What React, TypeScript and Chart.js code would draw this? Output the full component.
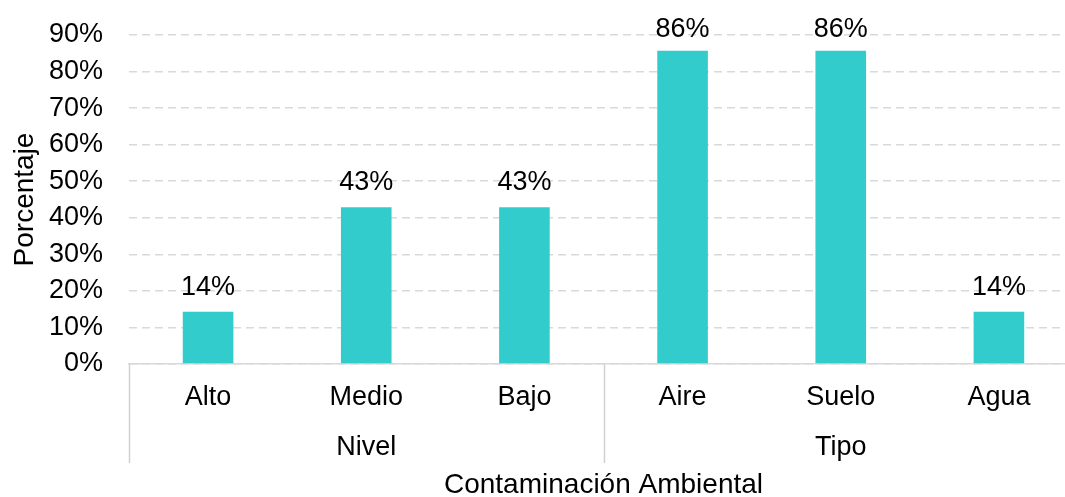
import React, { useEffect, useRef } from "react";
import { Chart, registerables } from "chart.js";

Chart.register(...registerables);

const categories = ["Alto", "Medio", "Bajo", "Aire", "Suelo", "Agua"];
const values = [14.29, 42.86, 42.86, 85.71, 85.71, 14.29];
const groupNames = ["Nivel", "Tipo"];
const groupSizes = [3, 3];
const yTicks = [0, 10, 20, 30, 40, 50, 60, 70, 80, 90];

const FONT = '"Liberation Sans", Arial, sans-serif';
const TICK_SIZE = 27;
const TITLE_SIZE = 28;

const overlay = {
  id: "overlay",
  afterDatasetsDraw(chart: any) {
    const ctx = chart.ctx;
    const xs = chart.scales.x;
    const area = chart.chartArea;
    const meta = chart.getDatasetMeta(0);
    ctx.save();
    ctx.font = `${TICK_SIZE}px ${FONT}`;
    ctx.fillStyle = "#000000";
    ctx.textAlign = "center";
    ctx.textBaseline = "alphabetic";
    meta.data.forEach((bar: any, i: number) => {
      const yb = Math.max(bar.y - 17, area.top + 2);
      ctx.fillText(Math.round(values[i]) + "%", bar.x, yb);
    });
    const half = (xs.getPixelForValue(1) - xs.getPixelForValue(0)) / 2;
    ctx.strokeStyle = "#d0d0d0";
    ctx.lineWidth = 1.5;
    let idx = 0;
    const bounds: number[] = [xs.getPixelForValue(0) - half];
    groupSizes.forEach((n, g) => {
      const start = xs.getPixelForValue(idx) - half;
      const end = xs.getPixelForValue(idx + n - 1) + half;
      bounds.push(end);
      ctx.textBaseline = "middle";
      ctx.fillText(groupNames[g], (start + end) / 2, 448);
      idx += n;
    });
    bounds.forEach((bx) => {
      ctx.beginPath();
      ctx.moveTo(Math.round(bx) + 0.5, area.bottom);
      ctx.lineTo(Math.round(bx) + 0.5, 463);
      ctx.stroke();
    });
    ctx.restore();
  },
};

export default function App() {
  const ref = useRef<HTMLCanvasElement>(null);
  useEffect(() => {
    if (!ref.current) return;
    const chart = new Chart(ref.current, {
      type: "bar",
      data: {
        labels: categories,
        datasets: [
          {
            data: values,
            backgroundColor: "#33CCCC",
            barPercentage: 0.32,
            categoryPercentage: 1,
          },
        ],
      },
      options: {
        responsive: false,
        animation: false,
        devicePixelRatio: 1,
        layout: { padding: { top: 35, left: 0, right: 0, bottom: 0 } },
        plugins: { legend: { display: false }, tooltip: { enabled: false } },
        scales: {
          x: {
            afterFit: (s: any) => {
              s.height = 133;
              s.paddingLeft = 0;
              s.paddingRight = 0;
            },
            grid: { display: false, drawTicks: false },
            border: { display: true, color: "#d9d9d9", width: 1.5 },
            ticks: {
              color: "#000000",
              font: { family: FONT, size: TICK_SIZE },
              padding: 17,
              maxRotation: 0,
            },
            title: {
              display: true,
              text: "Contaminación Ambiental",
              color: "#000000",
              font: { family: FONT, size: TITLE_SIZE },
              padding: { top: 0, bottom: -5 },
            },
          },
          y: {
            min: 0,
            max: 90,
            afterFit: (s: any) => {
              s.width = 129;
              s.paddingTop = 0;
              s.paddingBottom = 0;
            },
            afterBuildTicks: (s: any) => {
              s.ticks = yTicks.map((v) => ({ value: v }));
            },
            grid: {
              color: "#d9d9d9",
              lineWidth: 1.5,
              drawTicks: false,
            },
            border: { display: false, dash: [8, 5] },
            ticks: {
              color: "#000000",
              font: { family: FONT, size: TICK_SIZE },
              padding: 26,
              callback: (v: any) => v + "%",
            },
            title: {
              display: true,
              text: "Porcentaje",
              color: "#000000",
              font: { family: FONT, size: TITLE_SIZE },
              padding: { top: 8, bottom: 0 },
            },
          },
        },
      },
      plugins: [overlay],
    });
    return () => chart.destroy();
  }, []);
  return (
    <div
      style={{
        position: "fixed",
        left: 0,
        top: 0,
        width: 1065,
        height: 497,
        overflow: "hidden",
        background: "#ffffff",
      }}
    >
      <canvas ref={ref} width={1078} height={497} style={{ width: 1078, height: 497, display: "block" }} />
    </div>
  );
}
